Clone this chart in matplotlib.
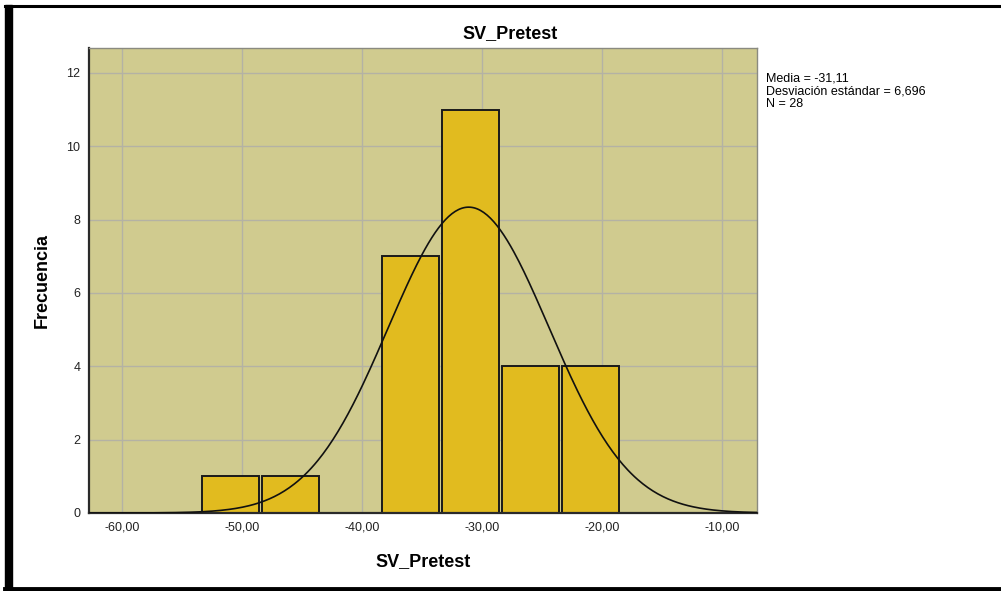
import numpy as np
import matplotlib
matplotlib.use("Agg")
import matplotlib.pyplot as plt
from matplotlib.lines import Line2D
from matplotlib.patches import Rectangle

plt.rcParams['font.family'] = ['Liberation Sans', 'DejaVu Sans']

# histogram data
bin_centers = [-51, -46, -41, -36, -31, -26, -21]
counts = [1, 1, 0, 7, 11, 4, 4]
bin_width = 5
media = -31.11
desv = 6.696
n_total = 28

x_ticks = [-60, -50, -40, -30, -20, -10]
y_ticks = [0, 2, 4, 6, 8, 10, 12]

bg_color = "#d0cb8f"
bar_color = "#e1bb1f"

fig = plt.figure(figsize=(10.01, 5.91), dpi=100)
ax = fig.add_axes([0.0886, 0.132, 0.6676, 0.7873])
ax.set_facecolor(bg_color)

ax.set_axisbelow(True)
ax.grid(True, color="#b4b2a4", linewidth=1.0)

ax.bar(np.array(bin_centers) + 0.05, counts, width=bin_width * 0.95, color=bar_color,
       edgecolor="#1a1a1a", linewidth=1.4, zorder=2)

# normal curve with the stats SPSS reports
xs = np.linspace(-62.8, -7.1, 400)
ys = n_total * bin_width / (desv * np.sqrt(2 * np.pi)) * np.exp(-0.5 * ((xs - media) / desv) ** 2)
ax.plot(xs, ys, color="#111111", linewidth=1.2, zorder=3)

ax.set_xlim(-62.78, -7.08)
ax.set_ylim(0, 12.69)
ax.set_xticks(x_ticks)
ax.set_xticklabels([f"{v:.2f}".replace(".", ",") for v in x_ticks])
ax.set_yticks(y_ticks)
ax.tick_params(length=0, labelsize=9, colors="#222222", pad=6)

for side in ["top", "right"]:
    ax.spines[side].set_color("#8a8a80")
    ax.spines[side].set_linewidth(1.0)
for side in ["left", "bottom"]:
    ax.spines[side].set_color("#2a2a2a")
    ax.spines[side].set_linewidth(1.6)

fig.text(0.51, 0.936, "SV_Pretest", ha="center", va="baseline",
         fontsize=13, fontweight="bold")
fig.text(0.423, 0.049, "SV_Pretest", ha="center", va="center",
         fontsize=13, fontweight="bold")
fig.text(0.042, 0.526, "Frecuencia", ha="center", va="center",
         rotation=90, fontsize=13, fontweight="bold")

stats = (f"Media = {media:.2f}".replace(".", ",") + "\n"
         + f"Desviación estándar = {desv:.3f}".replace(".", ",") + "\n"
         + f"N = {n_total}")
fig.text(0.765, 0.878, stats, ha="left", va="top", fontsize=9,
         linespacing=1.1)

# black frame around the picture
fig.patches.append(Rectangle((0.005, 0.0), 0.007, 0.992, transform=fig.transFigure,
                             color="black", zorder=10))
fig.lines.append(Line2D([0.005, 1.0], [0.990, 0.990], transform=fig.transFigure,
                        color="black", linewidth=2.2))
fig.lines.append(Line2D([0.005, 1.0], [0.003, 0.003], transform=fig.transFigure,
                        color="black", linewidth=3.5))

fig.savefig("out.png", dpi=100)
